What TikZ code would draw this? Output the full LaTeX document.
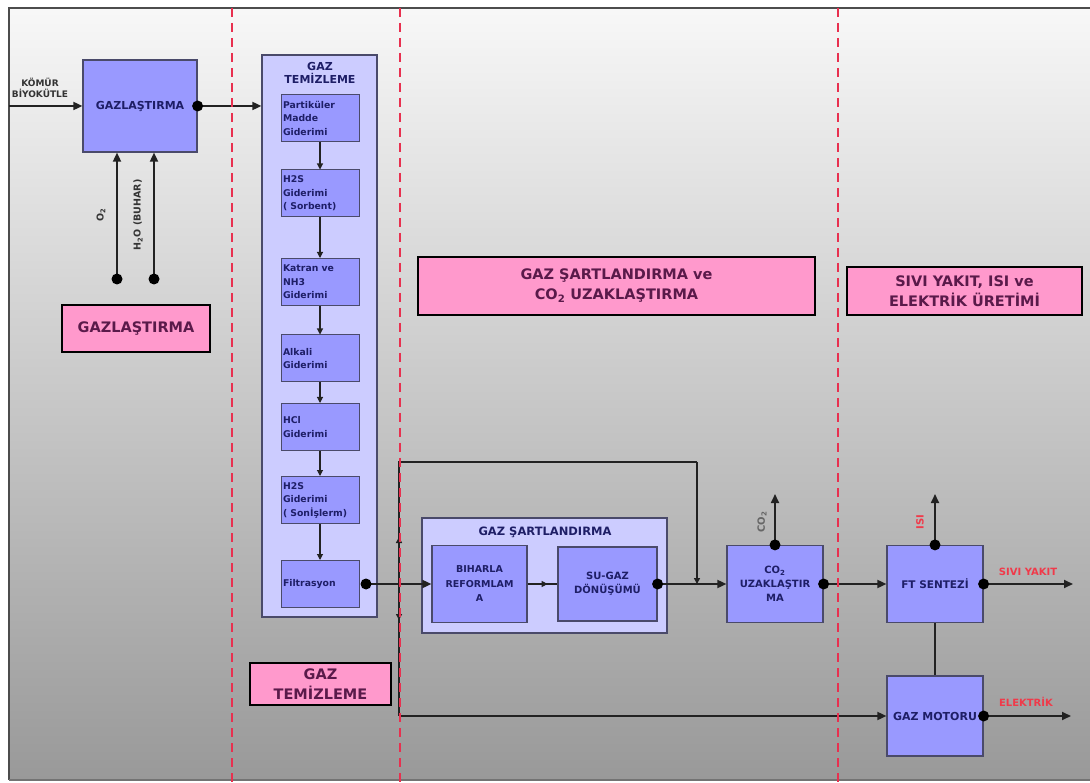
\documentclass[tikz,border=0pt]{standalone}
\usepackage{fontspec}
\setmainfont{DejaVu Sans}
\usetikzlibrary{arrows.meta}
\definecolor{boxfill}{HTML}{9999FF}
\definecolor{grpfill}{HTML}{CCCCFF}
\definecolor{pinkfill}{HTML}{FF99CC}
\definecolor{navy}{HTML}{1E1E66}
\definecolor{plum}{HTML}{5A1A4A}
\definecolor{redtxt}{HTML}{F03A4A}
\definecolor{dashred}{HTML}{E8304F}
\definecolor{linec}{HTML}{222222}
\definecolor{boxline}{HTML}{4A4A6A}
\definecolor{labgray}{HTML}{333333}
\newcommand{\fsz}[2]{\fontsize{#1}{#2}\selectfont}
\begin{document}
\begin{tikzpicture}[x=1pt,y=-1pt,
  proc/.style={draw=boxline, line width=1.2pt, fill=boxfill, text=navy, align=center, inner sep=0pt, font=\bfseries\fsz{10}{14}},
  grp/.style={draw=boxline, line width=1.2pt, fill=grpfill, inner sep=0pt},
  cbox/.style={draw=boxline, line width=1pt, fill=boxfill, minimum width=78pt, minimum height=47pt, text width=74pt, inner xsep=2pt, inner ysep=0pt, align=left, text=navy, font=\bfseries\fsz{9.3}{13.5}},
  tag/.style={draw=black, line width=1.8pt, fill=pinkfill, text=plum, align=center, inner sep=0pt, font=\bfseries\fsz{14.5}{20}},
  ttl/.style={text=navy, align=center, inner sep=0pt, font=\bfseries\fsz{11}{13}},
  ln/.style={draw=linec, line width=1.7pt},
  arr/.style={ln, -{Triangle[length=9pt,width=8pt]}},
  sarr/.style={ln, -{Triangle[length=6pt,width=6pt]}},
  redlab/.style={text=redtxt, inner sep=0pt, font=\bfseries\fsz{10}{12}},
  sdlab/.style={text=labgray, inner sep=0pt, font=\bfseries\fsz{9.5}{11}},
  sep/.style={draw=dashred, line width=2.5pt, dash pattern=on 9pt off 6pt}
]
\useasboundingbox (0,0) rectangle (1090,783);
\clip (0,0) rectangle (1090,783);
\fill[white] (0,0) rectangle (1090,783);
% background frame
\shade[top color=black!3, bottom color=black!40] (9,8) rectangle (1100,780);
\draw[draw=black!70, line width=2.5pt] (1100,8) -- (9,8) -- (9,780);
\draw[draw=black!55, line width=1.2pt] (9,780) -- (1100,780);

% ---- gasification ----
\node[proc, minimum width=114pt, minimum height=92pt, font=\bfseries\fsz{11}{14}] (gaz) at (140,106) {GAZLAŞTIRMA};
\coordinate (in) at (9,106);
\node[sdlab, align=center, font=\bfseries\fsz{9}{11.5}] (komur) at (40,88) {KÖMÜR\\BİYOKÜTLE};
\coordinate (o2s) at (117,279);
\coordinate (h2os) at (154,279);
\node[sdlab, rotate=90] (o2lab) at (101,215) {O\textsubscript{2}};
\node[sdlab, rotate=90] (h2olab) at (138,215) {H\textsubscript{2}O (BUHAR)};
\node[tag, minimum width=148pt, minimum height=47pt] (tg1) at (136,328.5) {GAZLAŞTIRMA};

% ---- gas cleaning column ----
\node[grp, minimum width=115pt, minimum height=562pt] (col) at (319.5,336) {};
\node[ttl] (colt) at (320,73) {GAZ\\TEMİZLEME};
\node[cbox] (c1) at (320,118) {Partiküler\\Madde\\Giderimi};
\node[cbox] (c2) at (320,193.5) {H2S\\Giderimi\\( Sorbent)};
\node[cbox] (c3) at (320,282) {Katran ve\\NH3\\Giderimi};
\node[cbox] (c4) at (320,358.5) {Alkali\\Giderimi};
\node[cbox] (c5) at (320,427) {HCl\\Giderimi};
\node[cbox] (c6) at (320,500) {H2S\\Giderimi\\( Sonİşlerm)};
\node[cbox] (c7) at (320,584) {Filtrasyon};
\node[tag, minimum width=141pt, minimum height=42pt] (tg2) at (320.5,684) {GAZ\\TEMİZLEME};

% ---- gas conditioning ----
\node[grp, minimum width=245pt, minimum height=115pt] (gs) at (544.5,575.5) {};
\node[ttl, font=\bfseries\fsz{11.5}{13}] (gst) at (545,532) {GAZ ŞARTLANDIRMA};
\node[proc, minimum width=95pt, minimum height=77pt, font=\bfseries\fsz{9.5}{14.5}] (birh) at (479.5,584) {BIHARLA\\REFORMLAM\\A};
\node[proc, minimum width=99pt, minimum height=74pt] (sugaz) at (607.5,584) {SU-GAZ\\DÖNÜŞÜMÜ};
\node[proc, minimum width=96pt, minimum height=77pt] (co2) at (775,584) {CO\textsubscript{2}\\UZAKLAŞTIR\\MA};
\node[tag, minimum width=397pt, minimum height=58pt] (tg3) at (616.5,286) {GAZ ŞARTLANDIRMA ve\\CO\textsubscript{2} UZAKLAŞTIRMA};

% ---- products ----
\node[proc, minimum width=96pt, minimum height=77pt, font=\bfseries\fsz{10.5}{14}] (ft) at (935,584) {FT SENTEZİ};
\node[proc, minimum width=96pt, minimum height=80pt, font=\bfseries\fsz{11}{14}] (gm) at (935,716) {GAZ MOTORU};
\node[tag, minimum width=235pt, minimum height=48pt] (tg4) at (964.5,291) {SIVI YAKIT, ISI ve\\ELEKTRİK ÜRETİMİ};

% ---- connectors ----
\draw[arr] (in) -- (gaz.west);
\draw[arr] (gaz.east) -- (gaz.east -| col.west);
\draw[arr] (o2s) -- (o2s |- gaz.south);
\draw[arr] (h2os) -- (h2os |- gaz.south);
\fill[black] (gaz.east) circle (5.5);
\fill[black] (o2s) circle (5.5);
\fill[black] (h2os) circle (5.5);
\draw[sarr, line width=1.1pt] (c1) -- (c2);
\draw[sarr, line width=1.1pt] (c2) -- (c3);
\draw[sarr, line width=1.1pt] (c3) -- (c4);
\draw[sarr, line width=1.1pt] (c4) -- (c5);
\draw[sarr, line width=1.1pt] (c5) -- (c6);
\draw[sarr, line width=1.1pt] (c6) -- (c7);

\coordinate (f1) at (366,584);
\coordinate (j1) at (399,584);
\coordinate (j2) at (399,462);
\coordinate (j3) at (697,462);
\coordinate (j4) at (697,584);
\coordinate (jup) at (399,537);
\coordinate (jdn) at (399,620);
\coordinate (j5) at (399,716);
\draw[arr] (f1) -- (birh.west);
\fill[black] (f1) circle (5.5);
\draw[ln] (j1) -- (j2) -- (j3);
\draw[sarr] (j3) -- (j4);
\draw[sarr] (j1) -- (jup);
\draw[ln] (j1) -- (j5);
\draw[sarr] (j1) -- (jdn);
\draw[arr] (j5) -- (gm.west);
\draw[sarr] (birh.east) -- ([xshift=20pt]birh.east);
\draw[ln] (birh.east) -- (sugaz.west);
\draw[arr] (sugaz.east) -- (co2.west);
\fill[black] (sugaz.east) circle (5.5);
\draw[arr] (co2.east) -- (ft.west);
\fill[black] (co2.east) circle (5.5);
\coordinate (co2up) at (775,494);
\draw[arr] (co2.north) -- (co2up);
\fill[black] (co2.north) circle (5.5);
\node[sdlab, rotate=90, text=black!60, font=\bfseries\fsz{10}{11}] (co2lab) at (762,522) {CO\textsubscript{2}};
\coordinate (isiup) at (935,494);
\draw[arr] (ft.north) -- (isiup);
\fill[black] (ft.north) circle (5.5);
\node[redlab, rotate=90] (isilab) at (920,522) {ISI};
\coordinate (sivi) at (1073,584);
\draw[arr] (ft.east) -- (sivi);
\fill[black] (ft.east) circle (5.5);
\node[redlab] (sivilab) at (1028,572) {SIVI YAKIT};
\draw[ln, line width=2.3pt] (ft.south) -- (gm.north);
\coordinate (elek) at (1071,716);
\draw[arr] (gm.east) -- (elek);
\fill[black] (gm.east) circle (5.5);
\node[redlab] (eleklab) at (1026,702) {ELEKTRİK};

% ---- section separators ----
\coordinate (s1t) at (232,8);  \coordinate (s1b) at (232,783);
\coordinate (s2t) at (400,8);  \coordinate (s2b) at (400,783);
\coordinate (s3t) at (838,8);  \coordinate (s3b) at (838,783);
\draw[sep] (s1t) -- (s1b);
\draw[sep] (s2t) -- (s2b);
\draw[sep] (s3t) -- (s3b);
\end{tikzpicture}
\end{document}
